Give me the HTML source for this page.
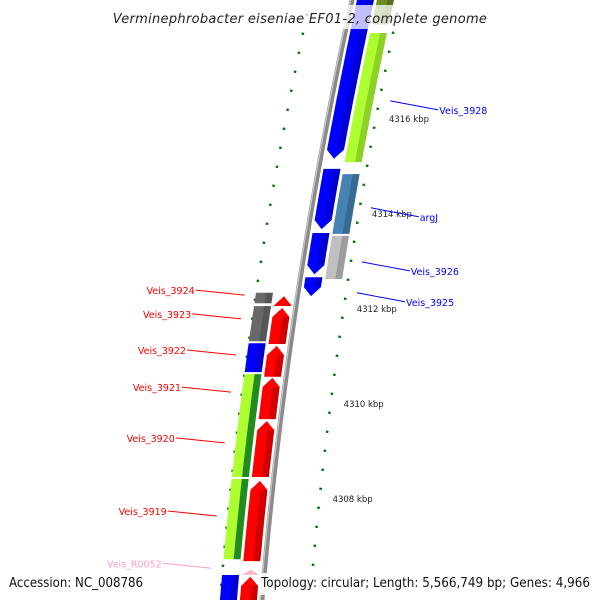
<!DOCTYPE html>
<html><head><meta charset="utf-8"><style>
body{margin:0;background:#fff}
svg{display:block;font-family:"DejaVu Sans","Liberation Sans",sans-serif}
</style></head><body>
<svg id="chart" width="600" height="600" viewBox="0 0 600 600" xmlns="http://www.w3.org/2000/svg">
<g id="rulers"></g><g id="backbone"></g><g id="genes"></g><g id="labels"></g>
<rect x="100" y="5" width="400" height="24" fill="#fff" opacity="0.75"/>
<text x="300" y="23" text-anchor="middle" font-size="13" font-style="italic" fill="#222" letter-spacing="0.3">Verminephrobacter eiseniae EF01-2, complete genome</text>
<rect x="258" y="573" width="336" height="22" fill="#fff" opacity="0.9"/>
<text x="9" y="587" font-size="13" fill="#111" textLength="134" lengthAdjust="spacingAndGlyphs">Accession: NC_008786</text>
<text x="261" y="587" font-size="13" fill="#111" textLength="329" lengthAdjust="spacingAndGlyphs">Topology: circular; Length: 5,566,749 bp; Genes: 4,966</text>
</svg>
<script>
// data (kbp)
const geneNames=["blueA","blueB","blueC","blueD","olive","green1","argJ","grey1","r1","r2","r3","r4","r5","r6","tRNA","r7","dg1","g2","b3","gg1","gg2","b4"];
const geneStart=[4318.6,4314.95,4313.6,4312.67,4318.6,4317.81,4314.84,4313.54,4312.27,4312.02,4311.22,4310.55,4309.64,4308.38,4306.51,4306.36,4312.34,4312.06,4311.28,4310.63,4308.42,4306.4];
const geneEnd=[4315.12,4313.64,4312.69,4312.23,4317.95,4315.05,4313.54,4312.59,4312.02,4311.22,4310.53,4309.64,4308.42,4306.65,4306.36,4305.7,4312.08,4311.28,4310.63,4308.42,4306.69,4305.7];
const geneTrack=[1,1,1,1,2,2,2,2,-1,-1,-1,-1,-1,-1,-1,-1,-2,-2,-2,-2,-2,-2];
const geneColor=["#0000ff","#0000ff","#0000ff","#0000ff","#6b8e23","#adff2f","#4682b4","#c0c0c0","#ff0000","#ff0000","#ff0000","#ff0000","#ff0000","#ff0000","#ffb6c1","#ff0000","#696969","#696969","#0000ff","#adff2f","#adff2f","#0000ff"];
const geneArrow=["down","down","down","down","none","none","none","none","up","up","up","up","up","up","up","up","none","none","none","none","none","none"];
const majorTicks=[4318,4316,4314,4312,4310,4308,4306];
const tickLabels=["","4316 kbp","4314 kbp","4312 kbp","4310 kbp","4308 kbp",""];
const labelNames=["Veis_3928","argJ","Veis_3926","Veis_3925","Veis_3924","Veis_3923","Veis_3922","Veis_3921","Veis_3920","Veis_3919","Veis_R0052"];
const labelKbp=[4316.36,4314.11,4312.97,4312.32,4312.27,4311.77,4311.01,4310.23,4309.16,4307.62,4306.52];
const labelSide=[1,1,1,1,-1,-1,-1,-1,-1,-1,-1];
const labelColor=["#0000ff","#0000ff","#0000ff","#0000ff","#ff0000","#ff0000","#ff0000","#ff0000","#ff0000","#ff0000","#ff9ecb"];

const NS="http://www.w3.org/2000/svg";
function Y(k){return 118+(4316-k)*47.5;}
function BX(y){return 352-0.217*y+0.0001115*y*y;}
const trackOff={1:[5,22],2:[25,42],"-1":[-22,-5],"-2":[-42,-25]};
function mk(tag,attrs,parent){const e=document.createElementNS(NS,tag);for(const k in attrs)e.setAttribute(k,attrs[k]);parent.appendChild(e);return e;}

// backbone
const bb=document.getElementById('backbone');
let pts=[];for(let y=-5;y<=605;y+=5)pts.push(BX(y)+","+y);
const bl=mk('polyline',{points:pts.join(' '),fill:'none',stroke:'#8a8a8a','stroke-width':5},bb);


const bl2=mk('polyline',{points:pts.map(p=>{const[a,b]=p.split(',');return (+a-1.5)+","+b}).join(' '),fill:'none',stroke:'#c8c8c8','stroke-width':1.2},bb);



// rulers
const rg=document.getElementById('rulers');
for(let i=0;i<=35;i++){
  const k=4319-i*0.4;
  const major=Math.abs(k/2-Math.round(k/2))<0.01;
  [[1,48],[-1,-42]].forEach(([side,off])=>{
    const y=Y(k)-(side<0?18:0);
    if(y<-5||y>605)return;
    const x=BX(y)+off;
    const len=major?7:2.5;
    const t=mk('line',{x1:x-len/2,y1:y,x2:x+len/2,y2:y+0.6,stroke:'#007000','stroke-width':2.2},rg);
    
    
  });
}
majorTicks.forEach((k,i)=>{
  if(!tickLabels[i])return;
  const y=Y(k);
  const t=mk('text',{x:BX(y)+61,y:y+4,'font-size':8.5,fill:'#222'},rg);
  t.textContent=tickLabels[i];
  
  
});

// genes
const gg=document.getElementById('genes');
geneNames.forEach((n,i)=>{
  const y1=Y(geneStart[i]),y2=Y(geneEnd[i]);
  const [d1,d2]=trackOff[geneTrack[i]];
  const dir=geneArrow[i];const H=9;
  let a=y1+1,b=y2-1;
  const L=[],R=[];
  let bs=a,be=b;
  if(dir==='down')be=b-H;
  if(dir==='up')bs=a+H;
  for(let y=bs;y<=be;y+=4){L.push([BX(y)+d1,y]);R.push([BX(y)+d2,y]);}
  L.push([BX(be)+d1,be]);R.push([BX(be)+d2,be]);
  let poly;
  const mid=(d1+d2)/2;
  if(dir==='down'){poly=L.concat([[BX(b)+mid,b]]).concat(R.reverse());}
  else if(dir==='up'){poly=[[BX(a)+mid,a]].concat(R).concat(L.reverse());}
  else poly=L.concat(R.reverse());
  const p=mk('polygon',{points:poly.map(q=>q[0].toFixed(1)+","+q[1].toFixed(1)).join(' '),fill:geneColor[i]},gg);
  
  
  const w=d2-d1;const s1=d1+w*0.6;
  const S=[],T=[];
  for(let y=bs;y<=be;y+=4){S.push([BX(y)+s1,y]);T.push([BX(y)+d2,y]);}
  S.push([BX(be)+s1,be]);T.push([BX(be)+d2,be]);
  const dark=(geneColor[i]==='#adff2f'&&geneTrack[i]<0);
  const sh=mk('polygon',{points:S.concat(T.reverse()).map(q=>q[0].toFixed(1)+","+q[1].toFixed(1)).join(' '),fill:dark?'#228b22':'#000',opacity:dark?1:0.18},gg);
  
  
});

// labels
const lg=document.getElementById('labels');
labelNames.forEach((n,i)=>{
  const y=Y(labelKbp[i]);const side=labelSide[i];
  let x1,x2,y2,tx,ty;
  if(side>0){x1=BX(y)+59;x2=x1+48;y2=y+9;tx=x2+1;ty=y2+4;}
  else{x1=BX(y)-53;x2=x1-49;y2=y-5;tx=x2-1;ty=y2+4;}
  const ln=mk('line',{x1:x1,y1:y,x2:x2,y2:y2,stroke:labelColor[i],'stroke-width':1},lg);
  
  
  const t=mk('text',{x:tx,y:ty,'font-size':9.5,fill:labelColor[i],'text-anchor':side>0?'start':'end'},lg);
  t.textContent=n;
  
  
});
</script>
</body></html>
